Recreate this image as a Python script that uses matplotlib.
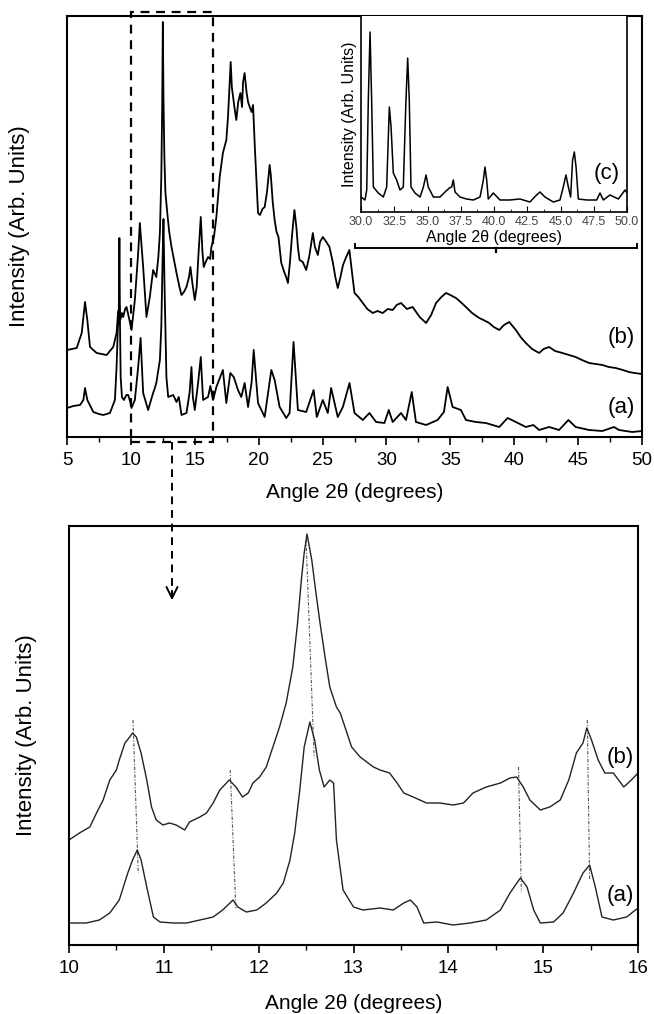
import matplotlib
matplotlib.use("Agg")
import matplotlib.pyplot as plt
from matplotlib.patches import Rectangle, FancyArrowPatch
from matplotlib.lines import Line2D
from matplotlib.transforms import blended_transform_factory
from matplotlib.ticker import MultipleLocator, FormatStrFormatter

plt.rcParams['font.family'] = ['Liberation Sans', 'DejaVu Sans']

# ---- full pattern, sample (a) ----
top_a_x = [5.0, 5.5, 6.02, 6.28, 6.41, 6.59, 7.06, 7.5, 7.84, 8.36, 8.75, 8.88, 8.98, 9.05, 9.1, 9.15,
           9.2, 9.3, 9.45, 9.65, 9.79, 9.95, 10.05, 10.31, 10.57, 10.76, 10.96, 11.35, 11.6, 11.74,
           11.85, 11.99, 12.27, 12.38, 12.47, 12.55, 12.62, 12.7, 12.78, 12.92, 13.31, 13.57, 13.75,
           13.96, 14.35, 14.6, 14.74, 14.85, 15.0, 15.26, 15.47, 15.65, 16.04, 16.22, 16.43, 16.69,
           17.2, 17.47, 17.78, 18.05, 18.38, 18.64, 18.9, 19.17, 19.45, 19.61, 19.95, 20.47, 20.99,
           21.25, 21.64, 22.16, 22.42, 22.73, 23.07, 23.72, 24.3, 24.55, 25.02, 25.41, 25.67, 26.19,
           26.59, 27.11, 27.5, 28.15, 28.67, 29.19, 29.84, 30.18, 30.49, 31.14, 31.53, 31.98, 32.31,
           33.1, 34.0, 34.5, 34.79, 35.18, 35.83, 36.22, 37.0, 37.78, 38.83, 39.48, 40.13, 40.91,
           41.5, 41.95, 42.73, 43.51, 44.24, 44.81, 45.86, 46.9, 47.81, 48.2, 49.24, 50.0]
top_a_y = [29, 31, 32, 37, 49, 37, 25, 23, 22, 24, 37, 70, 110, 118, 199, 110,
           60, 40, 37, 42, 42, 35, 29, 37, 70, 99, 44, 27, 38, 44,
           48, 54, 77, 110, 170, 218, 160, 110, 60, 40, 42, 35, 40,
           22, 24, 45, 70, 40, 27, 54, 80, 37, 40, 51, 37, 50,
           67, 34, 64, 60, 47, 40, 54, 30, 55, 87, 34, 20, 67,
           57, 30, 19, 24, 95, 27, 25, 47, 20, 37, 24, 49, 20,
           30, 54, 24, 17, 24, 15, 14, 27, 15, 24, 17, 45, 15,
           12, 17, 25, 50, 30, 27, 17, 15, 14, 10, 19, 15, 10,
           12, 7, 10, 7, 17, 10, 7, 6, 10, 7, 5, 6]

# ---- full pattern, sample (b) ----
top_b_x = [5.0, 5.76, 6.15, 6.41, 6.59, 6.8, 7.32, 8.1, 8.62, 8.88, 9.0, 9.1, 9.2, 9.3, 9.4, 9.55,
           9.66, 9.8, 9.92, 10.05, 10.31, 10.57, 10.7, 10.96, 11.22, 11.48, 11.74, 11.99, 12.15,
           12.27, 12.38, 12.45, 12.5, 12.55, 12.62, 12.7, 12.84, 13.0, 13.18, 13.4, 13.57, 13.8,
           13.96, 14.15, 14.35, 14.55, 14.66, 14.8, 15.0, 15.15, 15.3, 15.47, 15.6, 15.7, 15.85,
           16.04, 16.2, 16.3, 16.5, 16.69, 16.95, 17.2, 17.47, 17.6, 17.81, 17.9, 18.0, 18.1, 18.25,
           18.4, 18.57, 18.7, 18.78, 18.9, 19.05, 19.17, 19.3, 19.45, 19.56, 19.7, 19.85, 19.95,
           20.1, 20.3, 20.47, 20.65, 20.86, 20.95, 21.1, 21.25, 21.4, 21.55, 21.77, 22.0, 22.15,
           22.29, 22.45, 22.6, 22.8, 22.95, 23.07, 23.2, 23.45, 23.72, 23.95, 24.24, 24.4, 24.63,
           24.8, 25.02, 25.3, 25.54, 25.8, 26.0, 26.19, 26.4, 26.6, 26.85, 27.1, 27.3, 27.5, 27.8,
           28.15, 28.5, 28.93, 29.3, 29.71, 30.1, 30.49, 30.8, 31.14, 31.6, 32.05, 32.6, 33.1, 33.5,
           33.88, 34.3, 34.66, 35.0, 35.44, 35.8, 36.22, 36.7, 37.26, 37.6, 38.04, 38.4, 38.83,
           39.2, 39.61, 40.13, 40.5, 40.91, 41.4, 41.95, 42.3, 42.73, 43.2, 43.77, 44.3, 44.81,
           45.3, 45.86, 46.4, 46.9, 47.4, 47.94, 48.5, 48.98, 49.4, 50.0]
top_b_y = [87, 89, 104, 135, 117, 90, 84, 82, 90, 104, 125, 130, 118, 124, 120, 128,
           130, 122, 115, 107, 137, 184, 214, 170, 120, 140, 167, 160, 180,
           204, 260, 330, 415, 340, 280, 245, 225, 205, 190, 175, 164, 150,
           142, 145, 150, 160, 170, 155, 137, 150, 185, 220, 185, 170, 175,
           180, 178, 190, 200, 220, 260, 284, 297, 320, 375, 350, 340, 330, 317,
           335, 344, 330, 355, 364, 345, 335, 330, 325, 332, 290, 250, 224,
           222, 228, 230, 245, 272, 262, 235, 217, 205, 200, 174, 165, 160,
           154, 175, 200, 227, 210, 190, 177, 175, 167, 180, 204, 190, 182,
           195, 200, 195, 190, 175, 160, 149, 160, 172, 180, 187, 165, 144, 140,
           134, 128, 124, 126, 124, 128, 127, 132, 134, 128, 130, 120, 114, 122,
           134, 140, 144, 142, 139, 135, 130, 124, 119, 117, 114, 110, 107,
           112, 115, 107, 100, 94, 88, 84, 88, 90, 86, 84, 82, 80,
           77, 74, 73, 72, 70, 69, 67, 65, 64, 63]

# ---- inset, sample (c) ----
ins_x = [30.0, 30.3, 30.43, 30.55, 30.68, 30.8, 30.93, 31.3, 31.68, 31.93, 32.13, 32.26, 32.43, 32.68,
         32.93, 33.18, 33.38, 33.51, 33.63, 33.76, 34.06, 34.44, 34.69, 34.89, 35.06, 35.44, 35.94,
         36.32, 36.64, 36.82, 36.94, 37.07, 37.44, 37.94, 38.45, 38.95, 39.2, 39.32, 39.45, 39.57,
         39.95, 40.45, 41.2, 41.95, 42.7, 43.2, 43.46, 43.83, 44.46, 44.96, 45.21, 45.41, 45.59,
         45.76, 45.91, 46.04, 46.17, 46.34, 46.97, 47.72, 47.97, 48.22, 48.72, 49.35, 49.85, 50.0]
ins_y = [15, 12, 22, 112, 180, 112, 25, 19, 15, 25, 105, 85, 39, 32,
         22, 25, 112, 154, 112, 25, 19, 15, 25, 37, 25, 15, 15,
         20, 24, 25, 32, 20, 15, 13, 12, 15, 32, 45, 32, 13,
         19, 12, 12, 13, 10, 17, 20, 15, 10, 12, 25, 37, 25,
         15, 52, 60, 45, 13, 12, 12, 19, 12, 17, 13, 22, 19]

# ---- zoomed region 10-16 deg ----
zoom_b_x = [10.0, 10.11, 10.22, 10.29, 10.36, 10.43, 10.5, 10.53, 10.59, 10.64, 10.67, 10.71, 10.76,
            10.82, 10.87, 10.92, 10.99, 11.06, 11.13, 11.22, 11.27, 11.38, 11.45, 11.52, 11.59,
            11.69, 11.76, 11.83, 11.89, 11.94, 12.01, 12.08, 12.15, 12.22, 12.29, 12.36, 12.41,
            12.45, 12.48, 12.51, 12.56, 12.6, 12.647, 12.7, 12.75, 12.82, 12.86, 12.91, 12.98,
            13.07, 13.14, 13.21, 13.28, 13.38, 13.46, 13.53, 13.63, 13.77, 13.91, 14.05, 14.16,
            14.26, 14.4, 14.55, 14.65, 14.72, 14.79, 14.86, 14.97, 15.07, 15.18, 15.27, 15.35,
            15.42, 15.46, 15.51, 15.58, 15.65, 15.74, 15.85, 15.93, 16.0]
zoom_b_y = [105, 112, 118, 132, 145, 165, 175, 185, 202, 208, 212, 208, 192,
            165, 138, 125, 120, 122, 120, 115, 123, 128, 132, 142, 155,
            165, 158, 148, 152, 162, 168, 178, 198, 218, 242, 278, 322,
            365, 392, 411, 385, 355, 322, 288, 258, 238, 232, 218, 198,
            188, 183, 178, 175, 172, 162, 152, 148, 142, 142, 140, 142,
            152, 158, 162, 167, 168, 158, 145, 135, 138, 145, 165, 192,
            202, 217, 205, 185, 172, 172, 158, 165, 172]

zoom_a_x = [10.0, 10.18, 10.32, 10.43, 10.53, 10.62, 10.67, 10.72, 10.76, 10.82, 10.89, 10.96, 11.1,
            11.24, 11.38, 11.52, 11.62, 11.73, 11.78, 11.87, 11.98, 12.08, 12.19, 12.26, 12.33,
            12.38, 12.43, 12.48, 12.54, 12.59, 12.64, 12.69, 12.75, 12.79, 12.82, 12.89, 13.0,
            13.1, 13.28, 13.42, 13.53, 13.6, 13.67, 13.74, 13.88, 14.05, 14.23, 14.4, 14.55,
            14.65, 14.76, 14.83, 14.9, 14.97, 15.11, 15.21, 15.32, 15.42, 15.49, 15.55, 15.62,
            15.74, 15.88, 16.0]
zoom_a_y = [22, 22, 25, 32, 45, 72, 85, 95, 85, 58, 28, 23, 22,
            22, 25, 28, 35, 45, 38, 33, 35, 42, 52, 62, 85,
            112, 152, 198, 223, 205, 175, 158, 165, 162, 105, 55, 38,
            35, 37, 35, 42, 45, 38, 22, 23, 20, 22, 25, 35,
            52, 67, 58, 35, 22, 23, 32, 52, 72, 80, 58, 28,
            25, 28, 37]

# peak guide lines (b -> a)
guide_x_top = [10.675, 11.70, 12.50, 14.74, 15.465]
guide_y_top = [225, 175, 405, 178, 225]
guide_x_bot = [10.73, 11.76, 12.585, 14.77, 15.49]
guide_y_bot = [72, 35, 187, 53, 65]

W, H = 654, 1014
fig = plt.figure(figsize=(W / 100, H / 100), dpi=100)


def fbox(l, t, r, b):
    return [l / W, 1 - b / H, (r - l) / W, (b - t) / H]


def style_axis(ax, size):
    for s in ax.spines.values():
        s.set_linewidth(1.5)
    ax.tick_params(axis='x', which='major', direction='out', length=6, width=1.2, labelsize=size, pad=5)
    ax.tick_params(axis='x', which='minor', direction='out', length=3.5, width=1.0)
    ax.set_yticks([])


# ---------- top panel ----------
ax1 = fig.add_axes(fbox(67, 16, 642, 437))
ax1.plot(top_a_x, top_a_y, color='black', lw=1.3)
ax1.plot(top_b_x, top_b_y, color='black', lw=1.3)
ax1.set_xlim(5, 50)
ax1.set_ylim(0, 421)
ax1.xaxis.set_major_locator(MultipleLocator(5))
ax1.xaxis.set_minor_locator(MultipleLocator(2.5))
style_axis(ax1, 13.5)
ax1.set_xlabel("Angle 2θ (degrees)", fontsize=15, labelpad=10)
ax1.set_ylabel("Intensity (Arb. Units)", fontsize=16)
ax1.yaxis.set_label_coords(-0.064, 0.5)
ax1.text(48.4, 99, "(b)", fontsize=16, ha='center', va='center')
ax1.text(48.4, 30, "(a)", fontsize=16, ha='center', va='center')

# dashed selection box
trans = blended_transform_factory(ax1.transData, ax1.transAxes)
ax1.add_patch(Rectangle((10, -0.012), 6.4, 1.022, transform=trans, fill=False,
                        ls=(0, (4, 3)), lw=1.6, color='black', clip_on=False))

# ---------- inset ----------
ax3 = fig.add_axes(fbox(361, 16, 627, 212))
ax3.plot(ins_x, ins_y, color='black', lw=1.1)
ax3.set_xlim(30, 50)
ax3.set_ylim(0, 196)
ax3.set_yticks([])
ax3.spines['top'].set_visible(False)
for s in ['left', 'right', 'bottom']:
    ax3.spines[s].set_linewidth(1.2)
ax3.xaxis.set_major_locator(MultipleLocator(2.5))
ax3.xaxis.set_minor_locator(MultipleLocator(1.25))
ax3.xaxis.set_major_formatter(FormatStrFormatter('%.1f'))
ax3.tick_params(axis='x', which='major', direction='in', length=4, labelsize=9, labelcolor='#444444', pad=3)
ax3.tick_params(axis='x', which='minor', direction='in', length=2)
ax3.set_xlabel("Angle 2θ (degrees)", fontsize=11.5, labelpad=1)
ax3.set_ylabel("Intensity (Arb. Units)", fontsize=11.5, labelpad=3)
ax3.text(48.5, 39, "(c)", fontsize=16, ha='center', va='center')

# bracket below the inset
by = 1 - 248 / H
fig.add_artist(Line2D([355 / W, 637 / W], [by, by], color='black', lw=1.4))
for xe in (355, 637):
    fig.add_artist(Line2D([xe / W, xe / W], [by, by + 4 / H], color='black', lw=1.4))
fig.add_artist(Line2D([496 / W, 496 / W], [by, by - 4 / H], color='black', lw=1.6))

# ---------- bottom panel ----------
ax2 = fig.add_axes(fbox(69, 526, 638, 945))
for x0, x1, y0, y1 in zip(guide_x_top, guide_x_bot, guide_y_top, guide_y_bot):
    ax2.plot([x0, x1], [y0, y1], color='#555555', lw=0.8, ls=(0, (3, 1.5, 1, 1.5)))
ax2.plot(zoom_b_x, zoom_b_y, color='#222222', lw=1.0)
ax2.plot(zoom_a_x, zoom_a_y, color='#222222', lw=1.0)
ax2.set_xlim(10, 16)
ax2.set_ylim(0, 419)
ax2.xaxis.set_major_locator(MultipleLocator(1))
ax2.xaxis.set_minor_locator(MultipleLocator(0.5))
style_axis(ax2, 13.5)
ax2.set_xlabel("Angle 2θ (degrees)", fontsize=15, labelpad=12)
ax2.set_ylabel("Intensity (Arb. Units)", fontsize=16)
ax2.yaxis.set_label_coords(-0.056, 0.5)
ax2.text(15.81, 187, "(b)", fontsize=16, ha='center', va='center')
ax2.text(15.81, 50, "(a)", fontsize=16, ha='center', va='center')

# dashed arrow from the box to the zoomed panel
ax_x = 172 / W
fig.add_artist(Line2D([ax_x, ax_x], [1 - 442 / H, 1 - 596 / H], color='black', lw=1.4, ls=(0, (4, 3))))
fig.add_artist(FancyArrowPatch((ax_x, 1 - 588 / H), (ax_x, 1 - 603 / H), transform=fig.transFigure,
                               arrowstyle='->', mutation_scale=20, lw=1.4, color='black'))

fig.savefig("out.png", dpi=100)
